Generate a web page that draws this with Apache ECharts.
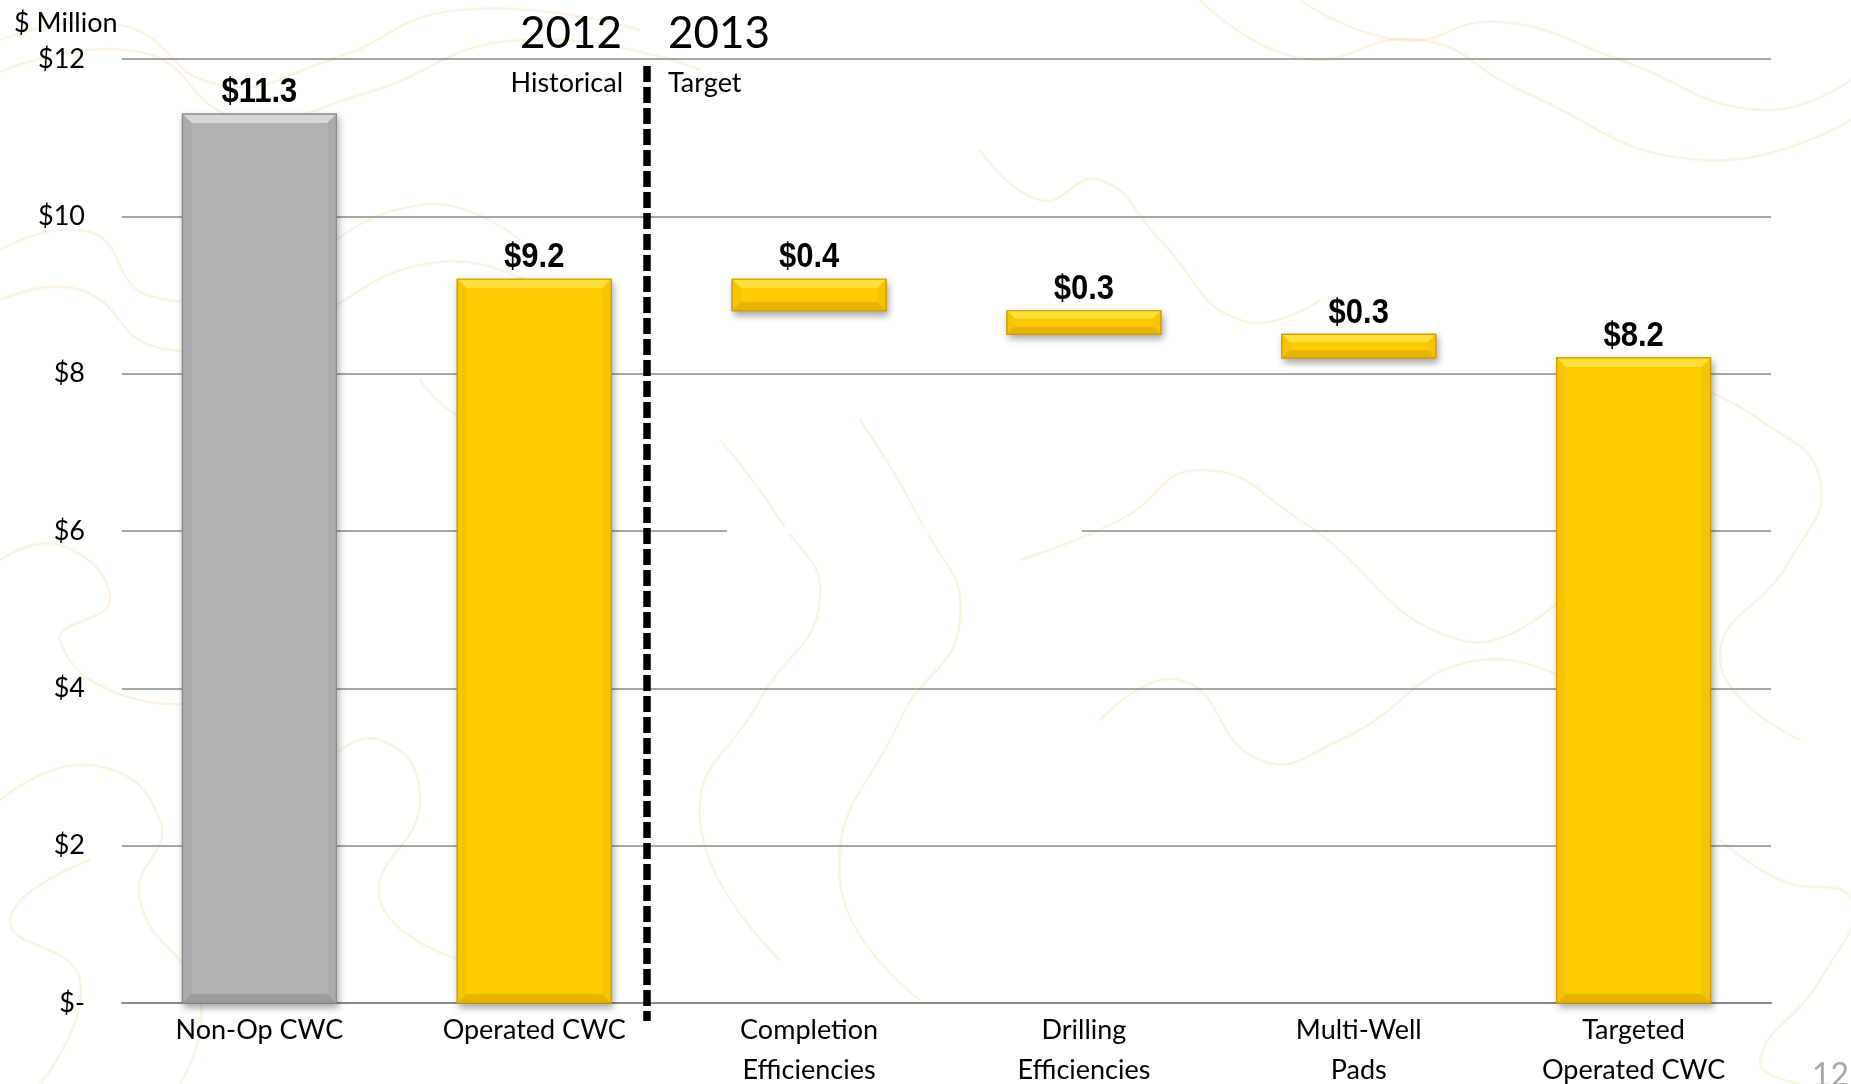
<!DOCTYPE html>
<html>
<head>
<meta charset="utf-8">
<title>CWC Cost Walk</title>
<script src="https://cdn.jsdelivr.net/npm/echarts@6/dist/echarts.min.js"></script>
<style>
  html, body { margin: 0; padding: 0; background: #ffffff; }
  #chart { width: 1851px; height: 1084px; }
</style>
</head>
<body>
<div id="chart"></div>
<script>
// Completed well cost walk, $ million
const categories = ['Non-Op CWC', 'Operated CWC', 'Completion\nEfficiencies', 'Drilling\nEfficiencies', 'Multi-Well\nPads', 'Targeted\nOperated CWC'];
const amounts = [11.3, 9.2, 0.4, 0.3, 0.3, 8.2];
const kinds = ['total', 'total', 'delta', 'delta', 'delta', 'total'];
const yTicks = [0, 2, 4, 6, 8, 10, 12];

// Build floating [index, low, high, amount] items: totals rise from zero,
// savings step down from the running total.
function buildWalk() {
  const rows = [];
  let running = 0;
  for (let i = 0; i < amounts.length; i++) {
    if (kinds[i] === 'total') {
      running = amounts[i];
      rows.push([i, 0, amounts[i], amounts[i]]);
    } else {
      const high = running;
      const low = +(running - amounts[i]).toFixed(2);
      running = low;
      rows.push([i, low, high, amounts[i]]);
    }
  }
  return rows;
}
const walk = buildWalk();

const palette = {
  grey:   { main: '#b2b2b2', top: '#d6d6d6', side: '#ababab', bottom: '#9c9c9c', border: '#8a8a8a' },
  yellow: { main: '#ffcc00', top: '#ffe03a', side: '#f7c400', bottom: '#e8b400', border: '#cf9d00' }
};

// Bevelled bar drawn from the axis coordinates of each walk step
function renderBar(params, api) {
  const idx = api.value(0);
  const low = api.value(1);
  const high = api.value(2);
  const amount = api.value(3);
  const pLow = api.coord([idx, low]);
  const pHigh = api.coord([idx, high]);
  const w = api.size([1, 0])[0] * 0.56;
  const x = pLow[0] - w / 2;
  const y = pHigh[1];
  const h = pLow[1] - pHigh[1];
  const c = idx === 0 ? palette.grey : palette.yellow;
  const b = Math.min(9, h / 3);
  return {
    type: 'group',
    children: [
      { type: 'rect', shape: { x: x, y: y, width: w, height: h },
        style: { fill: c.main, stroke: c.border, lineWidth: 1.2,
                 shadowBlur: 7, shadowOffsetX: 2, shadowOffsetY: 4, shadowColor: 'rgba(0,0,0,0.35)' } },
      { type: 'polygon', shape: { points: [[x, y], [x + w, y], [x + w - b, y + b], [x + b, y + b]] },
        style: { fill: c.top } },
      { type: 'polygon', shape: { points: [[x, y], [x + b, y + b], [x + b, y + h - b], [x, y + h]] },
        style: { fill: c.side } },
      { type: 'polygon', shape: { points: [[x + w, y], [x + w, y + h], [x + w - b, y + h - b], [x + w - b, y + b]] },
        style: { fill: c.side } },
      { type: 'polygon', shape: { points: [[x, y + h], [x + b, y + h - b], [x + w - b, y + h - b], [x + w, y + h]] },
        style: { fill: c.bottom } },
      { type: 'rect', shape: { x: x, y: y, width: w, height: h },
        style: { fill: 'none', stroke: c.border, lineWidth: 1.2 } },
      { type: 'text', x: pLow[0], y: y - 4, scaleY: 1.12, originX: 0, originY: 0,
        style: { text: '$' + amount.toFixed(1), fill: '#000', align: 'center', verticalAlign: 'bottom',
                 font: 'bold 31px "Liberation Sans", Arial, sans-serif' } }
    ]
  };
}

// Faint topographic contour lines in the slide background
const contours = [
  [[0, 40], [120, 25], [220, 85], [330, 60], [460, 10], [640, 30]],
  [[0, 72], [140, 52], [240, 118], [360, 95], [520, 40], [700, 70]],
  [[0, 250], [90, 232], [150, 296], [260, 280], [420, 205], [520, 240]],
  [[0, 300], [80, 290], [160, 348], [280, 330], [440, 262], [560, 300]],
  [[0, 560], [60, 545], [110, 600], [60, 640], [140, 700], [260, 690]],
  [[0, 800], [90, 765], [160, 820], [140, 900], [200, 1000], [180, 1084]],
  [[40, 1084], [80, 980], [10, 920], [90, 860]],
  [[720, 440], [780, 520], [820, 600], [760, 700], [700, 820], [780, 960]],
  [[860, 420], [920, 520], [960, 620], [900, 720], [840, 880], [920, 1000]],
  [[1020, 560], [1120, 520], [1200, 470], [1300, 520], [1460, 640], [1560, 600]],
  [[1100, 720], [1180, 680], [1260, 760], [1340, 740], [1480, 660], [1600, 700]],
  [[1200, 0], [1300, 58], [1420, 40], [1520, 90], [1700, 160], [1851, 120]],
  [[1300, 0], [1400, 40], [1500, 22], [1620, 60], [1760, 110], [1851, 80]],
  [[1680, 380], [1760, 420], [1820, 480], [1790, 560], [1720, 660], [1800, 740]],
  [[1720, 840], [1780, 880], [1851, 900], [1820, 980], [1760, 1060], [1800, 1084]],
  [[420, 380], [470, 420], [520, 400], [560, 460], [520, 560], [600, 640]],
  [[250, 700], [300, 760], [380, 740], [420, 800], [380, 900], [460, 960]],
  [[980, 150], [1040, 200], [1100, 180], [1160, 240], [1240, 320], [1320, 300]]
];

const chart = echarts.init(document.getElementById('chart'));
chart.setOption({
  backgroundColor: '#ffffff',
  animation: false,
  grid: { left: 122, right: 80, top: 59, bottom: 81, containLabel: false, outerBoundsMode: 'none' },
  xAxis: {
    type: 'category',
    data: categories,
    axisLine: { lineStyle: { color: '#8a8a8a', width: 2 } },
    axisTick: { show: false },
    axisLabel: { color: '#000', fontFamily: 'Lato', fontSize: 27, lineHeight: 40, margin: 7, interval: 0 }
  },
  yAxis: {
    type: 'value',
    min: yTicks[0],
    max: yTicks[yTicks.length - 1],
    interval: 2,
    axisLine: { show: false },
    axisTick: { show: false },
    splitLine: { lineStyle: { color: '#8a8a8a', width: 1.5 } },
    axisLabel: {
      color: '#000', fontFamily: 'Lato', fontSize: 27, margin: 37,
      formatter: v => (v === 0 ? '$-' : '$' + v)
    }
  },
  graphic: [
    ...contours.map(pts => ({
      type: 'polyline', z: -10, silent: true,
      shape: { points: pts, smooth: 0.5 },
      style: { fill: 'none', stroke: 'rgba(236,196,110,0.22)', lineWidth: 2.5 }
    })),
    { type: 'rect', z: 1, silent: true, shape: { x: 727, y: 527, width: 355, height: 7 }, style: { fill: '#ffffff' } },
    { type: 'text', left: 14, top: 10, style: { text: '$ Million', fill: '#000', font: '27px Lato' } },
    { type: 'text', x: 622, y: 34, style: { text: '2012', fill: '#000', font: '44px Lato', align: 'right', verticalAlign: 'middle' } },
    { type: 'text', x: 668, y: 34, style: { text: '2013', fill: '#000', font: '44px Lato', align: 'left', verticalAlign: 'middle' } },
    { type: 'text', x: 623, y: 83, style: { text: 'Historical', fill: '#000', font: '27px Lato', align: 'right', verticalAlign: 'middle' } },
    { type: 'text', x: 668, y: 83, style: { text: 'Target', fill: '#000', font: '27px Lato', align: 'left', verticalAlign: 'middle' } },
    { type: 'line', z: 50, shape: { x1: 647, y1: 66, x2: 647, y2: 1021 },
      style: { stroke: '#000', lineWidth: 7.5, lineDash: [16, 5] } },
    { type: 'text', x: 1812, y: 1076, style: { text: '12', fill: '#a6a6a6', font: '32px Lato', align: 'left', verticalAlign: 'middle' } }
  ],
  series: [{
    type: 'custom',
    renderItem: renderBar,
    encode: { x: 0, y: [1, 2] },
    data: walk,
    z: 10
  }]
});
</script>
</body>
</html>
